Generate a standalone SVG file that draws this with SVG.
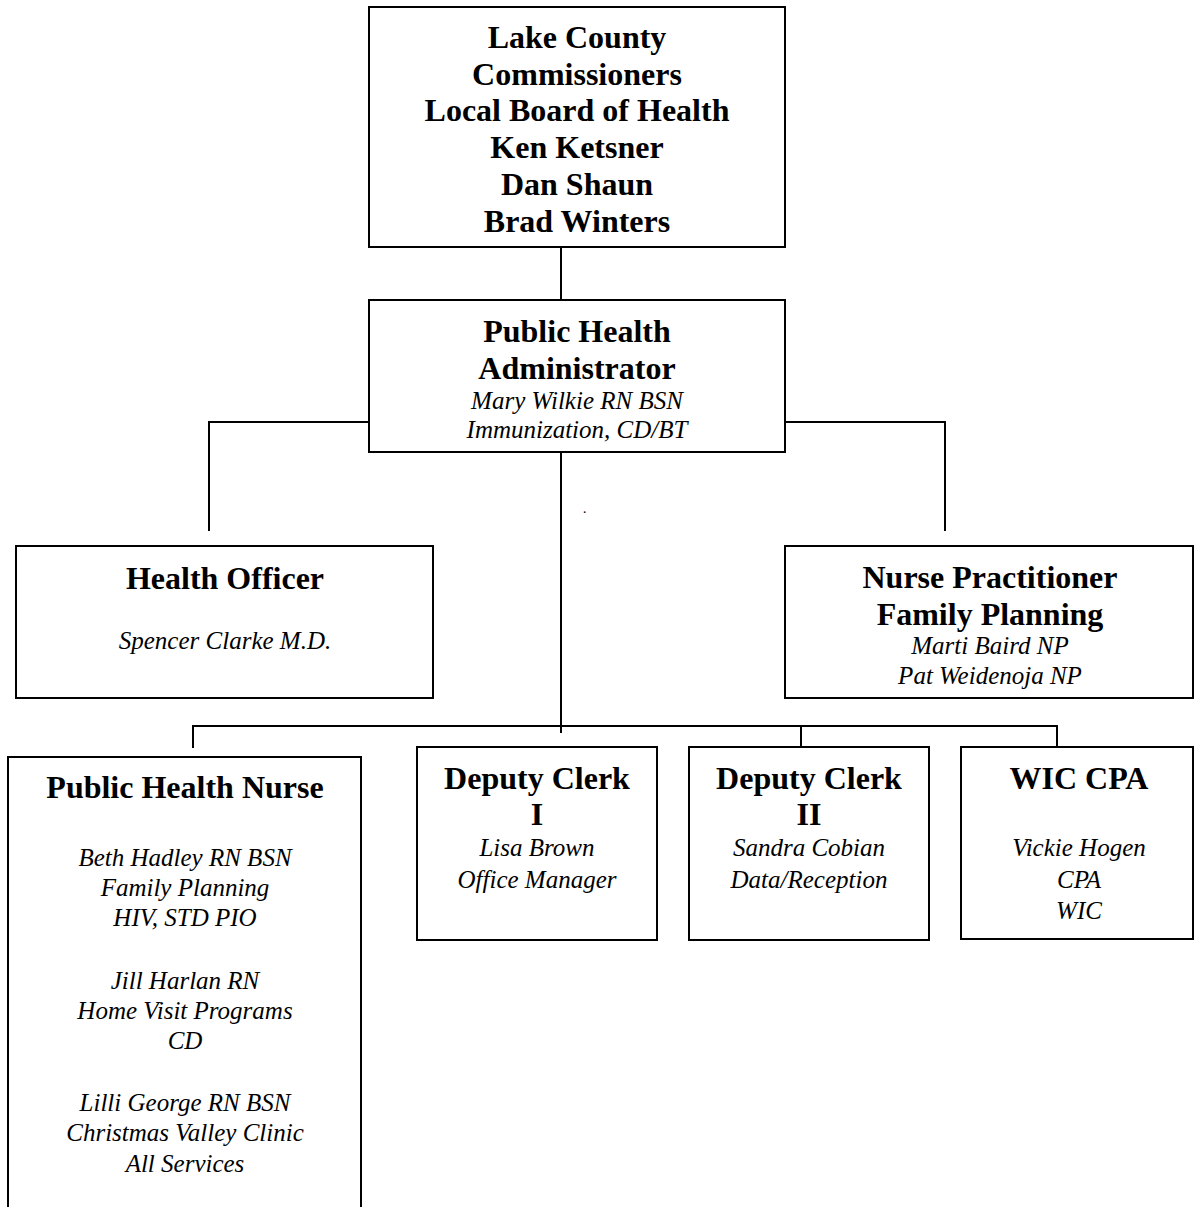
<svg xmlns="http://www.w3.org/2000/svg" width="1195" height="1207" viewBox="0 0 1195 1207">
<style>
.box{fill:#fff;stroke:#000;stroke-width:2}
.ln{fill:none;stroke:#000;stroke-width:2}
.b{font-family:"Liberation Serif","Times New Roman",serif;font-weight:bold;font-size:32px;text-anchor:middle;fill:#000}
.i{font-family:"Liberation Serif","Times New Roman",serif;font-style:italic;font-size:25px;text-anchor:middle;fill:#000}
</style>
<rect width="1195" height="1207" fill="#fff"/>
<g id="connectors">
<path class="ln" d="M561 247V300"/>
<path class="ln" d="M369 422H209V531"/>
<path class="ln" d="M785 422H945V531"/>
<path class="ln" d="M561 452V733"/>
<path class="ln" d="M193 748V726H1057V747"/>
<path class="ln" d="M801 726V747"/>
</g>
<g id="board">
<rect class="box" x="369" y="7" width="416" height="240"/>
<text class="b" x="577" y="48">Lake County</text>
<text class="b" x="577" y="85">Commissioners</text>
<text class="b" x="577" y="121">Local Board of Health</text>
<text class="b" x="577" y="158">Ken Ketsner</text>
<text class="b" x="577" y="195">Dan Shaun</text>
<text class="b" x="577" y="232">Brad Winters</text>
</g>
<g id="administrator">
<rect class="box" x="369" y="300" width="416" height="152"/>
<text class="b" x="577" y="342">Public Health</text>
<text class="b" x="577" y="379">Administrator</text>
<text class="i" x="577" y="409">Mary Wilkie RN BSN</text>
<text class="i" x="577" y="438">Immunization, CD/BT</text>
</g>
<text class="i" x="585" y="513" style="font-size:14px">.</text>
<g id="health-officer">
<rect class="box" x="16" y="546" width="417" height="152"/>
<text class="b" x="225" y="589">Health Officer</text>
<text class="i" x="225" y="649">Spencer Clarke M.D.</text>
</g>
<g id="nurse-practitioner">
<rect class="box" x="785" y="546" width="408" height="152"/>
<text class="b" x="990" y="588">Nurse Practitioner</text>
<text class="b" x="990" y="625">Family Planning</text>
<text class="i" x="990" y="654">Marti Baird NP</text>
<text class="i" x="990" y="684">Pat Weidenoja NP</text>
</g>
<g id="public-health-nurse">
<rect class="box" x="8" y="757" width="353" height="460"/>
<text class="b" x="185" y="798">Public Health Nurse</text>
<text class="i" x="185" y="866">Beth Hadley RN BSN</text>
<text class="i" x="185" y="896">Family Planning</text>
<text class="i" x="185" y="926">HIV, STD PIO</text>
<text class="i" x="185" y="989">Jill Harlan RN</text>
<text class="i" x="185" y="1019">Home Visit Programs</text>
<text class="i" x="185" y="1049">CD</text>
<text class="i" x="185" y="1111">Lilli George RN BSN</text>
<text class="i" x="185" y="1141">Christmas Valley Clinic</text>
<text class="i" x="185" y="1172">All Services</text>
</g>
<g id="deputy-clerk-1">
<rect class="box" x="417" y="747" width="240" height="193"/>
<text class="b" x="537" y="789">Deputy Clerk</text>
<text class="b" x="537" y="825">I</text>
<text class="i" x="537" y="856">Lisa Brown</text>
<text class="i" x="537" y="888">Office Manager</text>
</g>
<g id="deputy-clerk-2">
<rect class="box" x="689" y="747" width="240" height="193"/>
<text class="b" x="809" y="789">Deputy Clerk</text>
<text class="b" x="809" y="825">II</text>
<text class="i" x="809" y="856">Sandra Cobian</text>
<text class="i" x="809" y="888">Data/Reception</text>
</g>
<g id="wic-cpa">
<rect class="box" x="961" y="747" width="232" height="192"/>
<text class="b" x="1079" y="789">WIC CPA</text>
<text class="i" x="1079" y="856">Vickie Hogen</text>
<text class="i" x="1079" y="888">CPA</text>
<text class="i" x="1079" y="919">WIC</text>
</g>
</svg>
